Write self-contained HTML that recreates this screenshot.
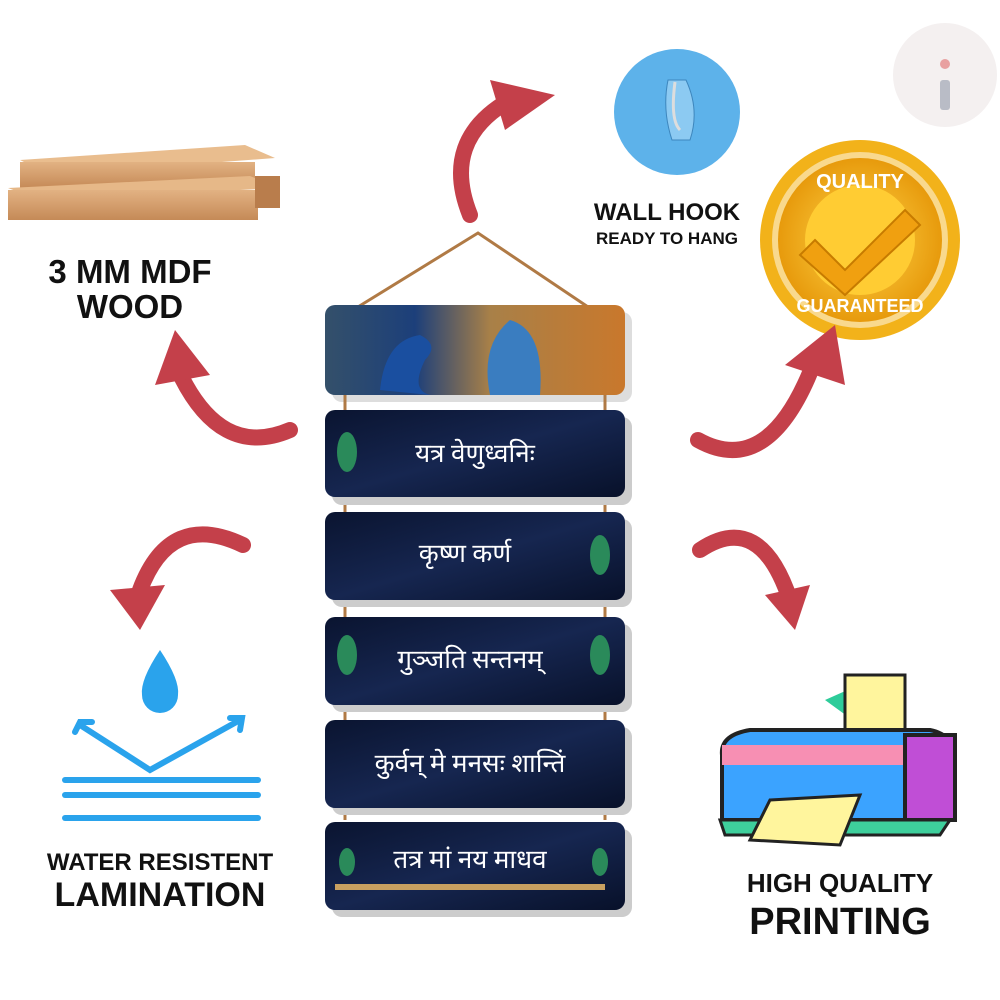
<!DOCTYPE html>
<html><head><meta charset="utf-8"><style>
html,body{margin:0;padding:0;background:#fff;}
svg{display:block}
text{font-family:"Liberation Sans",sans-serif;font-weight:bold;fill:#111}
.dv{font-family:"Liberation Serif","Noto Sans CJK SC",serif;fill:#fff;font-size:26px;font-weight:normal}
</style></head><body>
<svg width="1000" height="1000" viewBox="0 0 1000 1000" xmlns="http://www.w3.org/2000/svg">
<defs>
<linearGradient id="nav" x1="0" y1="0" x2="1" y2="1"><stop offset="0" stop-color="#0a1430"/><stop offset="0.5" stop-color="#162650"/><stop offset="1" stop-color="#08112a"/></linearGradient>
<linearGradient id="top" x1="0" y1="0" x2="1" y2="0"><stop offset="0" stop-color="#34506a"/><stop offset="0.3" stop-color="#1c3f7a"/><stop offset="0.55" stop-color="#a88048"/><stop offset="1" stop-color="#c9782c"/></linearGradient>
<linearGradient id="wood" x1="0" y1="0" x2="0" y2="1"><stop offset="0" stop-color="#e2b283"/><stop offset="1" stop-color="#c58a57"/></linearGradient>
<radialGradient id="gold"><stop offset="0" stop-color="#ffd54a"/><stop offset="1" stop-color="#e79a0c"/></radialGradient>
</defs>
<circle cx="945" cy="75" r="52" fill="#f4f0f0"/>
<rect x="940" y="80" width="10" height="30" rx="3" fill="#b9bcc6"/><circle cx="945" cy="64" r="5" fill="#e8a0a0"/>
<polygon points="20,160 245,145 275,158 50,175" fill="#e9bd8e"/>
<rect x="20" y="162" width="235" height="26" fill="url(#wood)"/>
<polygon points="8,188 250,176 280,188 40,200" fill="#e6b888"/>
<rect x="8" y="190" width="250" height="30" fill="url(#wood)"/>
<rect x="255" y="176" width="25" height="32" fill="#b97d4c"/>
<text x="130" y="283" font-size="33" text-anchor="middle">3 MM MDF</text>
<text x="130" y="318" font-size="33" text-anchor="middle">WOOD</text>
<circle cx="677" cy="112" r="63" fill="#5db2ea"/>
<path d="M668 80 Q662 110 672 140 L690 140 Q700 110 686 80 Z" fill="#8ccaf2" stroke="#3d86bd"/>
<path d="M675 82 Q670 120 680 130" stroke="#ddd" stroke-width="3" fill="none"/>
<text x="667" y="220" font-size="24" text-anchor="middle">WALL HOOK</text>
<text x="667" y="244" font-size="17" text-anchor="middle">READY TO HANG</text>
<circle cx="860" cy="240" r="100" fill="#f2b21a"/>
<circle cx="860" cy="240" r="88" fill="#fff" opacity="0.5"/>
<circle cx="860" cy="240" r="82" fill="url(#gold)"/>
<circle cx="860" cy="240" r="55" fill="#ffcc33"/>
<path d="M815 240 L845 270 L905 210 L920 225 L845 295 L800 255 Z" fill="#f0a010" stroke="#c77b00" stroke-width="2"/>
<text x="860" y="188" font-size="20" text-anchor="middle" style="fill:#fff">QUALITY</text>
<text x="860" y="312" font-size="18" text-anchor="middle" style="fill:#fff">GUARANTEED</text>
<g fill="none" stroke="#c4404a" stroke-width="16" stroke-linecap="round">
<path d="M470 215 Q440 140 510 100"/>
<path d="M290 430 Q220 460 178 370"/>
<path d="M243 545 Q170 510 140 590"/>
<path d="M698 440 Q770 480 815 360"/>
<path d="M700 550 Q760 510 790 600"/>
</g>
<g fill="#c4404a">
<polygon points="490,80 555,95 505,130"/>
<polygon points="155,385 175,330 210,375"/>
<polygon points="110,590 165,585 140,630"/>
<polygon points="785,365 835,325 845,385"/>
<polygon points="765,595 810,585 795,630"/>
</g>
<path d="M160 650 Q140 680 142 695 A18 18 0 0 0 178 695 Q180 680 160 650Z" fill="#2aa3ec"/>
<g stroke="#2aa3ec" stroke-width="6" fill="none" stroke-linecap="round">
<path d="M80 725 L150 770 L240 720"/><path d="M65 780 H258"/><path d="M65 795 H258"/><path d="M65 818 H258"/>
<path d="M75 732 L80 722 L92 722"/><path d="M230 718 L242 718 L240 730"/>
</g>
<text x="160" y="870" font-size="24" text-anchor="middle">WATER RESISTENT</text>
<text x="160" y="906" font-size="34" text-anchor="middle">LAMINATION</text>
<polygon points="825,700 870,680 905,700 880,740" fill="#2ecc9a"/>
<rect x="845" y="675" width="60" height="65" fill="#fff59d" stroke="#222" stroke-width="3"/>
<path d="M722 755 Q720 735 750 730 L930 730 Q955 735 955 760 L955 820 L722 820 Z" fill="#3ba3ff" stroke="#222" stroke-width="4"/>
<path d="M722 755 L955 755" stroke="#f78fb3" stroke-width="20"/>
<rect x="905" y="735" width="50" height="85" fill="#c04ed6" stroke="#222" stroke-width="4"/>
<path d="M720 820 L950 820 L940 835 L725 835 Z" fill="#3ecf9c" stroke="#222" stroke-width="3"/>
<polygon points="770,800 860,795 840,845 750,840" fill="#fff59d" stroke="#222" stroke-width="3"/>
<text x="840" y="892" font-size="26" text-anchor="middle">HIGH QUALITY</text>
<text x="840" y="934" font-size="38" text-anchor="middle">PRINTING</text>
<path d="M340 318 L478 233 L600 315" stroke="#b07a45" stroke-width="3" fill="none"/>
<rect x="332" y="312" width="300" height="90" rx="10" fill="#bbb" opacity="0.5"/>
<rect x="325" y="305" width="300" height="90" rx="10" fill="url(#top)"/>
<path d="M380 390 Q385 340 420 335 Q440 345 425 360 Q410 390 430 395 Z" fill="#1a4fa0"/>
<path d="M490 395 Q480 345 510 320 Q545 330 540 395 Z" fill="#3a7dc0"/>
<g stroke="#b07a45" stroke-width="3">
<line x1="345" y1="395" x2="345" y2="820"/><line x1="605" y1="395" x2="605" y2="820"/>
</g>
<rect x="332" y="417" width="300" height="88" rx="10" fill="#ccc"/>
<rect x="325" y="410" width="300" height="87" rx="10" fill="url(#nav)"/>
<text class="dv" x="475" y="462" text-anchor="middle">यत्र वेणुध्वनिः</text>
<rect x="332" y="519" width="300" height="88" rx="10" fill="#ccc"/>
<rect x="325" y="512" width="300" height="88" rx="10" fill="url(#nav)"/>
<text class="dv" x="465" y="562" text-anchor="middle">कृष्ण कर्ण</text>
<rect x="332" y="624" width="300" height="88" rx="10" fill="#ccc"/>
<rect x="325" y="617" width="300" height="88" rx="10" fill="url(#nav)"/>
<text class="dv" x="470" y="668" text-anchor="middle">गुञ्जति सन्तनम्</text>
<rect x="332" y="727" width="300" height="88" rx="10" fill="#ccc"/>
<rect x="325" y="720" width="300" height="88" rx="10" fill="url(#nav)"/>
<text class="dv" x="470" y="772" text-anchor="middle">कुर्वन् मे मनसः शान्तिं</text>
<rect x="332" y="829" width="300" height="88" rx="10" fill="#ccc"/>
<rect x="325" y="822" width="300" height="88" rx="10" fill="url(#nav)"/>
<text class="dv" x="470" y="868" text-anchor="middle">तत्र मां नय माधव</text>
<rect x="335" y="884" width="270" height="6" fill="#c8a060"/>
<g fill="#2a8a5a">
<ellipse cx="347" cy="452" rx="10" ry="20"/><ellipse cx="600" cy="555" rx="10" ry="20"/>
<ellipse cx="347" cy="655" rx="10" ry="20"/><ellipse cx="600" cy="655" rx="10" ry="20"/>
<ellipse cx="347" cy="862" rx="8" ry="14"/><ellipse cx="600" cy="862" rx="8" ry="14"/>
</g>
</svg>
</body></html>
